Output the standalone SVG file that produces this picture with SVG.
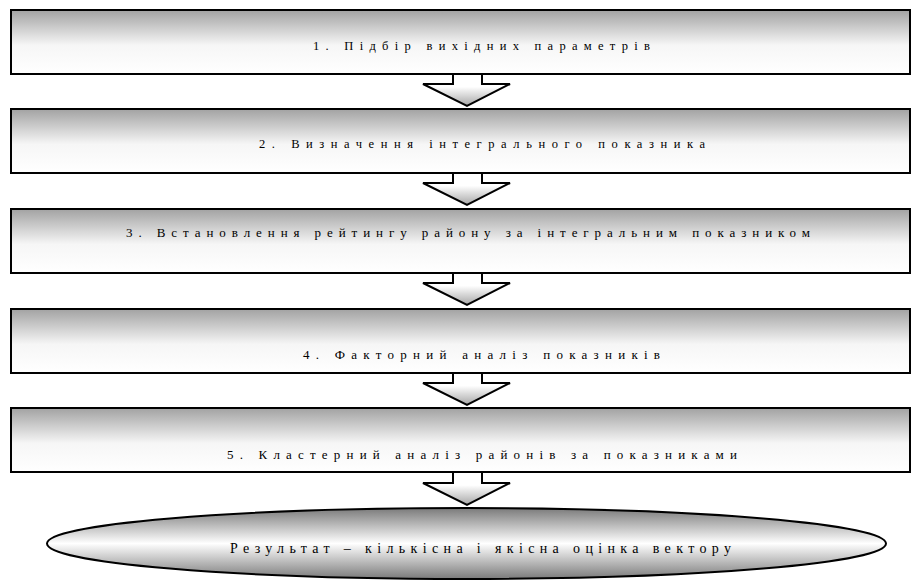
<svg xmlns="http://www.w3.org/2000/svg" width="913" height="581" viewBox="0 0 913 581">
  <defs>
    <linearGradient id="gBox" x1="0" y1="0" x2="0" y2="1">
      <stop offset="0" stop-color="#a2a2a2"/>
      <stop offset="0.55" stop-color="#f6f6f6"/>
      <stop offset="1" stop-color="#ffffff"/>
    </linearGradient>
    <linearGradient id="gArrow" x1="0" y1="0" x2="0" y2="1">
      <stop offset="0" stop-color="#ffffff"/>
      <stop offset="0.4" stop-color="#ffffff"/>
      <stop offset="1" stop-color="#a6a6a6"/>
    </linearGradient>
    <linearGradient id="gEll" x1="0" y1="0" x2="0" y2="1">
      <stop offset="0" stop-color="#7a7a7a"/>
      <stop offset="0.5" stop-color="#ffffff"/>
      <stop offset="1" stop-color="#7a7a7a"/>
    </linearGradient>
  </defs>
  <style>
    .box { fill: url(#gBox); stroke: #000; stroke-width: 2; }
    .arrow { fill: url(#gArrow); stroke: #000; stroke-width: 2; stroke-linejoin: miter; }
    .ell { fill: url(#gEll); stroke: #000; stroke-width: 2; }
    .t { font-family: "Liberation Serif", "Times New Roman", serif; fill: #000; }
  </style>

  <g id="connectors">
    <path class="arrow" d="M453,74 L453,84 L423,84 L467,106 L510,84 L482,84 L482,74 Z"/>
    <path class="arrow" d="M453,173 L453,183 L423,183 L467,205 L510,183 L482,183 L482,173 Z"/>
    <path class="arrow" d="M453,273 L453,283 L423,283 L467,305 L510,283 L482,283 L482,273 Z"/>
    <path class="arrow" d="M453,373 L453,383 L423,383 L467,405 L510,383 L482,383 L482,373 Z"/>
    <path class="arrow" d="M453,472 L453,483 L423,483 L467,505 L510,483 L482,483 L482,472 Z"/>
  </g>

  <g id="step1">
    <rect class="box" x="11" y="10" width="899" height="64"/>
    <text class="t" x="313" y="50" font-size="12.5" textLength="337" lengthAdjust="spacing">1. Підбір вихідних параметрів</text>
  </g>
  <g id="step2">
    <rect class="box" x="11" y="109" width="899" height="64"/>
    <text class="t" x="259" y="148" font-size="12.5" textLength="446" lengthAdjust="spacing">2. Визначення інтегрального показника</text>
  </g>
  <g id="step3">
    <rect class="box" x="11" y="209" width="899" height="64"/>
    <text class="t" x="126" y="237" font-size="13" textLength="684" lengthAdjust="spacing">3. Встановлення рейтингу району за інтегральним показником</text>
  </g>
  <g id="step4">
    <rect class="box" x="11" y="309" width="899" height="64"/>
    <text class="t" x="303" y="359" font-size="13" textLength="357" lengthAdjust="spacing">4. Факторний аналіз показників</text>
  </g>
  <g id="step5">
    <rect class="box" x="11" y="408" width="899" height="64"/>
    <text class="t" x="227" y="459" font-size="13" textLength="510" lengthAdjust="spacing">5. Кластерний аналіз районів за показниками</text>
  </g>
  <g id="result">
    <ellipse class="ell" cx="466.5" cy="543.5" rx="419.5" ry="35.5"/>
    <text class="t" x="230" y="553" font-size="14" textLength="501" lengthAdjust="spacing">Результат – кількісна і якісна оцінка вектору</text>
  </g>
</svg>
